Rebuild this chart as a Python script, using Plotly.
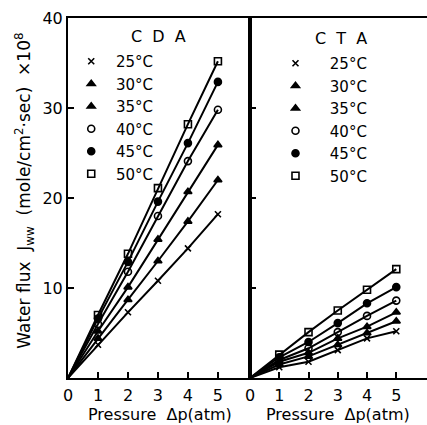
import plotly.graph_objects as go

# Pressure difference (atm)
pressure = [0, 1, 2, 3, 4, 5]

# Water flux J_ww (x 10^8 mole/cm2 sec), CDA membrane
cda_25 = [0, 3.7, 7.3, 10.8, 14.4, 18.2]
cda_30 = [0, 4.4, 8.7, 13.0, 17.4, 22.0]
cda_35 = [0, 5.2, 10.1, 15.4, 20.7, 25.9]
cda_40 = [0, 6.0, 11.8, 18.0, 24.1, 29.8]
cda_45 = [0, 6.6, 12.9, 19.6, 26.1, 32.9]
cda_50 = [0, 7.0, 13.8, 21.1, 28.2, 35.2]

# Water flux J_ww (x 10^8 mole/cm2 sec), CTA membrane
cta_25 = [0, 1.2, 1.8, 3.1, 4.4, 5.2]
cta_30 = [0, 1.5, 2.4, 3.7, 5.0, 6.3]
cta_35 = [0, 1.8, 2.8, 4.4, 5.7, 7.3]
cta_40 = [0, 2.0, 3.3, 5.1, 6.9, 8.6]
cta_45 = [0, 2.3, 4.0, 6.1, 8.3, 10.1]
cta_50 = [0, 2.6, 5.1, 7.5, 9.8, 12.1]

temps = ["25°C", "30°C", "35°C", "40°C", "45°C", "50°C"]
symbols = ["x-thin", "triangle-up", "triangle-up", "circle-open", "circle", "square-open"]
cda = [cda_25, cda_30, cda_35, cda_40, cda_45, cda_50]
cta = [cta_25, cta_30, cta_35, cta_40, cta_45, cta_50]

FONT = "DejaVu Sans"
NB = "\u00a0"
fig = go.Figure()


def marker_style(sym):
    size = 7 if not sym.startswith("x") else 6
    return dict(symbol=sym, size=size, color="black",
                line=dict(color="black", width=1.6))


panels = [(cda, "x", "y", "legend", 1), (cta, "x2", "y2", "legend2", 3)]
for series, xa, ya, leg, pad in panels:
    for t, sym, ys in zip(temps, symbols, series):
        fig.add_trace(go.Scatter(
            x=pressure[1:], y=ys[1:], mode="markers",
            marker=marker_style(sym), xaxis=xa, yaxis=ya, showlegend=False,
            hoverinfo="skip"))
        fig.add_trace(go.Scatter(
            x=pressure, y=ys, mode="lines",
            line=dict(color="black", width=2), xaxis=xa, yaxis=ya,
            showlegend=False))
        # legend entry (marker only)
        fig.add_trace(go.Scatter(
            x=[None], y=[None], mode="markers", name=NB * pad + t,
            marker=marker_style(sym), legend=leg, showlegend=True,
            xaxis=xa, yaxis=ya))

axis_common = dict(showline=True, linecolor="black", linewidth=2,
                   ticks="inside", ticklen=6, tickwidth=1.5, tickcolor="black",
                   showgrid=False, zeroline=False,
                   tickfont=dict(family=FONT, size=16, color="black"))

L, T, W, H = 68, 18, 359, 360          # plot area in pixels
split = (250 - L) / W


def px_x(px):
    return (px - L) / W


def px_y(py):
    return (T + H - py) / H


fig.update_layout(
    width=427, height=425,
    margin=dict(l=L, r=0, t=T, b=425 - T - H, autoexpand=False),
    paper_bgcolor="white", plot_bgcolor="white",
    font=dict(family=FONT, size=16, color="black"),
    xaxis=dict(domain=[0, split], range=[0, 6.07], tickvals=pressure,
               mirror=True, anchor="y", ticklabelstandoff=2, **axis_common),
    yaxis=dict(range=[0, 40], tickvals=[10, 20, 30, 40], mirror=True,
               anchor="x", **axis_common),
    xaxis2=dict(domain=[split, 1], range=[0, 6.05], tickvals=pressure,
                mirror=True, anchor="y2", ticklabelstandoff=2, **axis_common),
    yaxis2=dict(range=[0, 40], tickvals=[10, 20, 30], showticklabels=False,
                anchor="x2", **axis_common),
    legend=dict(x=0.009, y=px_y(45), xanchor="left", yanchor="top",
                bgcolor="rgba(0,0,0,0)", tracegroupgap=0,
                font=dict(family=FONT, size=15), itemwidth=30),
    legend2=dict(x=split + 0.071, y=px_y(47), xanchor="left", yanchor="top",
                 bgcolor="rgba(0,0,0,0)", tracegroupgap=0,
                 font=dict(family=FONT, size=15), itemwidth=30),
)

# Panel labels
for label, cx, cy in [("C" + NB * 2 + "D" + NB * 2 + "A", 158, 36),
                      ("C" + NB * 2 + "T" + NB * 2 + "A", 341, 38)]:
    fig.add_annotation(text=label, xref="paper", yref="paper",
                       x=px_x(cx), y=px_y(cy), xanchor="center", yanchor="middle",
                       showarrow=False, font=dict(family=FONT, size=16))

fig.add_annotation(text="Pressure  Δp(atm)", xref="paper", yref="paper",
                   x=px_x(160), y=-0.07, xanchor="center", yanchor="top",
                   showarrow=False, font=dict(family=FONT, size=16))
fig.add_annotation(text="Pressure  Δp(atm)", xref="paper", yref="paper",
                   x=px_x(338), y=-0.07, xanchor="center", yanchor="top",
                   showarrow=False, font=dict(family=FONT, size=16))
fig.add_annotation(
    text="Water flux  J<sub>ww</sub>  (mole/cm<sup>2</sup>·sec)  ×10<sup>8</sup>",
    xref="paper", yref="paper", x=-0.12, y=0.52, xanchor="center",
    yanchor="middle", textangle=-90, showarrow=False,
    font=dict(family=FONT, size=17))

fig.write_html("out.html")
